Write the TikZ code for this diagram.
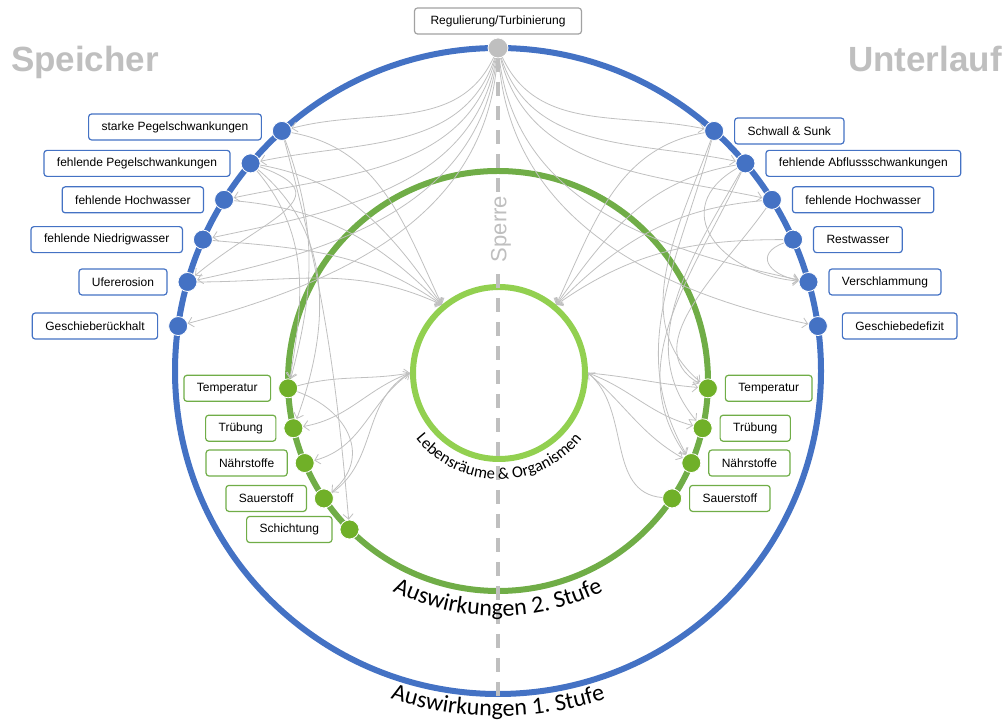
\documentclass[tikz,border=0pt]{standalone}
\usepackage{fontspec}
\setmainfont{Liberation Sans}
\newfontfamily\carlito{Carlito}
\usepackage{tikz}
\usetikzlibrary{arrows.meta, positioning, decorations.text}
\definecolor{farbeBlau}{RGB}{68, 114, 196}
\definecolor{farbeGruen}{RGB}{112, 173, 71}
\definecolor{farbeGruenPunkt}{RGB}{112, 176, 40}
\definecolor{farbeHellgruen}{RGB}{146, 208, 80}
\definecolor{farbeGrau}{RGB}{191, 191, 191}
\definecolor{farbeLinie}{RGB}{192, 192, 192}

\begin{document}
\begin{tikzpicture}[x=1pt, y=1pt,
    kbox/.style={draw=farbeBlau, line width=1.2pt, rounded corners=3pt, fill=white,
                 minimum height=26pt, inner xsep=13pt, font=\fontsize{12}{14}\selectfont},
    gbox/.style={kbox, draw=farbeGruen},
    rbox/.style={kbox, draw=farbeGrau!85!black, inner xsep=16pt},
    bdot/.style={circle, fill=farbeBlau, draw=white, line width=0.8pt, minimum size=19pt, inner sep=0pt},
    gdot/.style={bdot, fill=farbeGruenPunkt},
    link/.style={draw=farbeLinie, line width=0.8pt, -{Straight Barb[length=5pt, width=10pt]}},
    bogentext/.style={decorate, decoration={text along path, text align=center, text={#1}}}
]
\useasboundingbox (0,0) rectangle (1004,722);
\coordinate (O1) at (498,351);
\coordinate (O2) at (498,341);
\coordinate (O3) at (499,349);

\draw[farbeBlau, line width=6pt] (O1) circle[radius=323];
\draw[farbeGruen, line width=6pt] (O2) circle[radius=210];
\draw[farbeHellgruen, line width=6pt] (O3) circle[radius=86];

% Sperre
\coordinate (damTop) at (498,664);
\coordinate (damBot) at (498,22);
\draw[farbeGrau, line width=4pt, dash pattern=on 14pt off 10pt] (damTop) -- (damBot);
\node[rotate=90, fill=white, text=farbeGrau, font=\fontsize{22}{24}\selectfont, inner sep=3pt] (sperre) at (501,493) {Sperre};

\path[bogentext={|\carlito\fontsize{16.5}{19}\selectfont|Lebensräume {\&} Organismen}]
    (O3) ++(200:106) arc[start angle=200, end angle=340, radius=106];
\path[bogentext={|\carlito\fontsize{24}{26}\selectfont|Auswirkungen 2. Stufe}]
    (O2) ++(225:235) arc[start angle=225, end angle=315, radius=235];
\path[bogentext={|\carlito\fontsize{24}{26}\selectfont|Auswirkungen 1. Stufe}]
    (O1) ++(240:345) arc[start angle=240, end angle=300, radius=345];

\node[anchor=base, text=farbeGrau, font=\bfseries\fontsize{35}{40}\selectfont] (speicher) at (85,650) {Speicher};
\node[anchor=base, text=farbeGrau, font=\bfseries\fontsize{35}{40}\selectfont] (unterlauf) at (925,650) {Unterlauf};

\node[bdot, fill=farbeGrau, minimum size=20pt] (reg) at (498,674) {};
\node[rbox, above=3pt of reg] (regText) {Regulierung/Turbinierung};

\path (O1) ++(132:323) node[bdot] (bL1) {};
\path (O1) ++(140:323) node[bdot] (bL2) {};
\path (O1) ++(148:323) node[bdot] (bL3) {};
\path (O1) ++(156:323) node[bdot] (bL4) {};
\path (O1) ++(164:323) node[bdot] (bL5) {};
\path (O1) ++(172:323) node[bdot] (bL6) {};
\path (O1) ++(48:323) node[bdot] (bR1) {};
\path (O1) ++(40:323) node[bdot] (bR2) {};
\path (O1) ++(32:323) node[bdot] (bR3) {};
\path (O1) ++(24:323) node[bdot] (bR4) {};
\path (O1) ++(16:323) node[bdot] (bR5) {};
\path (O1) ++(8:323) node[bdot] (bR6) {};

\path (O2) ++(182:210) node[gdot] (gL1) {};
\path (O2) ++(193:210) node[gdot] (gL2) {};
\path (O2) ++(203:210) node[gdot] (gL3) {};
\path (O2) ++(214:210) node[gdot] (gL4) {};
\path (O2) ++(225:210) node[gdot] (gL5) {};
\path (O2) ++(-2:210) node[gdot] (gR1) {};
\path (O2) ++(-13:210) node[gdot] (gR2) {};
\path (O2) ++(-23:210) node[gdot] (gR3) {};
\path (O2) ++(-34:210) node[gdot] (gR4) {};

\path (O3) ++(130:89) coordinate (iLT);
\path (O3) ++(50:89) coordinate (iRT);
\path (O3) ++(180:89) coordinate (iL);
\path (O3) ++(0:89) coordinate (iR);

\node[kbox, left=10pt of bL1, yshift=4pt] (tL1) {starke Pegelschwankungen};
\node[kbox, left=10pt of bL2] (tL2) {fehlende Pegelschwankungen};
\node[kbox, left=10pt of bL3] (tL3) {fehlende Hochwasser};
\node[kbox, left=10pt of bL4] (tL4) {fehlende Niedrigwasser};
\node[kbox, left=10pt of bL5] (tL5) {Ufererosion};
\node[kbox, left=10pt of bL6] (tL6) {Geschieberückhalt};
\node[kbox, right=10pt of bR1] (tR1) {Schwall \& Sunk};
\node[kbox, right=10pt of bR2] (tR2) {fehlende Abflussschwankungen};
\node[kbox, right=10pt of bR3] (tR3) {fehlende Hochwasser};
\node[kbox, right=10pt of bR4] (tR4) {Restwasser};
\node[kbox, right=10pt of bR5] (tR5) {Verschlammung};
\node[kbox, right=14pt of bR6] (tR6) {Geschiebedefizit};

\node[gbox, left=7pt of gL1] (sL1) {Temperatur};
\node[gbox, left=7pt of gL2] (sL2) {Trübung};
\node[gbox, left=7pt of gL3] (sL3) {Nährstoffe};
\node[gbox, left=7pt of gL4] (sL4) {Sauerstoff};
\node[gbox, left=7pt of gL5] (sL5) {Schichtung};
\node[gbox, right=7pt of gR1] (sR1) {Temperatur};
\node[gbox, right=7pt of gR2] (sR2) {Trübung};
\node[gbox, right=7pt of gR3] (sR3) {Nährstoffe};
\node[gbox, right=7pt of gR4] (sR4) {Sauerstoff};

% Regulierung -> Auswirkungen 1. Stufe
\draw[link] (reg) to[out=-115, in=15] (bL1);
\draw[link] (reg) to[out=-108, in=12] (bL2);
\draw[link] (reg) to[out=-104, in=12] (bL3);
\draw[link] (reg) to[out=-100, in=12] (bL4);
\draw[link] (reg) to[out=-97, in=12] (bL5);
\draw[link] (reg) to[out=-94, in=15] (bL6);
\draw[link] (reg) to[out=-65, in=168] (bR1);
\draw[link] (reg) to[out=-72, in=168] (bR2);
\draw[link] (reg) to[out=-76, in=168] (bR3);
\draw[link] (reg) to[out=-83, in=168] (bR5);
\draw[link] (reg) to[out=-86, in=168] (bR6);

\draw[link] (bL1) to[out=-10, in=115] (iLT);
\draw[link] (bL2) to[out=-10, in=125] (iLT);
\draw[link] (bL3) to[out=-5, in=135] (iLT);
\draw[link] (bL4) to[out=-5, in=145] (iLT);
\draw[link] (bL5) to[out=0, in=155] (iLT);
\draw[link] (bR1) to[out=190, in=65] (iRT);
\draw[link] (bR2) to[out=190, in=55] (iRT);
\draw[link] (bR3) to[out=185, in=45] (iRT);
\draw[link] (bR4) to[out=180, in=35] (iRT);

\draw[link] (bL2) to[out=-20, in=40, looseness=1.8] (bL5);
\draw[link] (bR4) to[out=200, in=170, looseness=2] (bR5);
\draw[link] (bR2) to[out=210, in=175, looseness=1.6] (bR5);

% Auswirkungen 1. Stufe -> 2. Stufe
\draw[link] (bL1) to[out=-70, in=75] (gL1);
\draw[link] (bL2) to[out=-50, in=80] (gL1);
\draw[link] (bL2) to[out=-40, in=70] (gL2);
\draw[link] (bL1) to[out=-75, in=95] (gL5);
\draw[link] (bR1) to[out=-110, in=140] (gR1);
\draw[link] (bR3) to[out=-125, in=150] (gR1);
\draw[link] (bR2) to[out=-120, in=130] (gR2);
\draw[link] (bR1) to[out=-105, in=120] (gR3);
\draw[link] (bR2) to[out=-115, in=125] (gR3);

\draw[link] (gL1) to[out=15, in=190] (iL);
\draw[link] (gL4) to[out=35, in=210] (iL);
\draw[link] (iL) to[out=200, in=10] (gL2);
\draw[link] (iL) to[out=215, in=15] (gL3);
\draw[link] (gL1) to[out=-20, in=40, looseness=1.3] (gL4);
\draw[link] (iR) to[out=-5, in=175] (gR1);
\draw[link] (iR) to[out=-20, in=165] (gR2);
\draw[link] (iR) to[out=-40, in=150] (gR3);
\draw[link] (gR4) to[out=175, in=-40] (iR);
\end{tikzpicture}
\end{document}
